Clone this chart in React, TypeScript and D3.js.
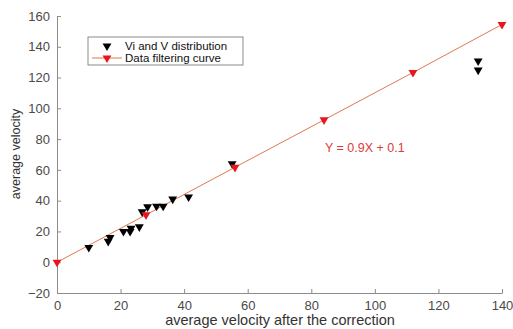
import React, { useEffect, useRef } from "react";
import { select, scaleLinear, axisLeft, axisBottom, line, symbol, symbolTriangle } from "d3";

// black scatter: Vi and V distribution
const scatterX = [10, 16.1, 16.7, 20.9, 23, 23.3, 25.9, 26.8, 28.5, 31.3, 33.4, 36.4, 41.4, 55.1, 132.5, 132.5];
const scatterY = [9.6, 13.6, 16, 20, 20, 22, 23, 32.7, 36, 36.4, 36.4, 41, 42.4, 64, 130.8, 124.8];

// red filtering curve
const curveX = [0, 28, 56, 84, 112, 140];
const curveY = [0, 30.8, 61.7, 92.5, 123.3, 154.5];

const xTicks = [0, 20, 40, 60, 80, 100, 120, 140];
const yTicks = [-20, 0, 20, 40, 60, 80, 100, 120, 140, 160];

const W = 513;
const H = 329;
const margin = { left: 57, right: 11, top: 16, bottom: 36 };

function App() {
  const svgRef = useRef<SVGSVGElement>(null);

  useEffect(() => {
    const svg = select(svgRef.current);
    svg.selectAll("*").remove();

    const x = scaleLinear().domain([0, 140]).range([margin.left, W - margin.right]);
    const y = scaleLinear().domain([-20, 160]).range([H - margin.bottom, margin.top]);
    const font = "'Liberation Sans', Arial, sans-serif";

    // axes (matlab style: ticks pointing in)
    const xAxis = svg
      .append("g")
      .attr("transform", `translate(0,${y(-20)})`)
      .call(axisBottom(x).tickValues(xTicks).tickSizeInner(-4).tickSizeOuter(0).tickPadding(8));
    const yAxis = svg
      .append("g")
      .attr("transform", `translate(${x(0)},0)`)
      .call(axisLeft(y).tickValues(yTicks).tickSizeInner(-4).tickSizeOuter(0).tickPadding(7));
    [xAxis, yAxis].forEach(g => {
      g.selectAll("path, line").attr("stroke", "#8c8c8c");
      g.selectAll("text").attr("fill", "#4a4a4a").attr("font-size", 13).attr("font-family", font);
    });

    // fit line
    svg
      .append("path")
      .datum(curveX.map((v, i) => [v, curveY[i]]))
      .attr("fill", "none")
      .attr("stroke", "#e07850")
      .attr("stroke-width", 1)
      .attr("d", line().x(d => x(d[0])).y(d => y(d[1])));

    const tri = symbol().type(symbolTriangle).size(34);

    svg
      .append("g")
      .selectAll("path")
      .data(scatterX.map((v, i) => [v, scatterY[i]]))
      .join("path")
      .attr("d", tri)
      .attr("fill", "#000")
      .attr("transform", d => `translate(${x(d[0])},${y(d[1])}) rotate(180)`);

    svg
      .append("g")
      .selectAll("path")
      .data(curveX.map((v, i) => [v, curveY[i]]))
      .join("path")
      .attr("d", tri)
      .attr("fill", "#e8141e")
      .attr("transform", d => `translate(${x(d[0])},${y(d[1])}) rotate(180)`);

    // legend
    const lg = svg.append("g").attr("transform", "translate(88,37)");
    lg.append("rect").attr("width", 155).attr("height", 28).attr("fill", "#fff").attr("stroke", "#6e6e6e").attr("stroke-width", 0.8);
    lg.append("path").attr("d", tri).attr("fill", "#000").attr("transform", "translate(19,9) rotate(180)");
    lg.append("line").attr("x1", 4).attr("x2", 34).attr("y1", 21).attr("y2", 21).attr("stroke", "#e07850");
    lg.append("path").attr("d", tri).attr("fill", "#e8141e").attr("transform", "translate(19,21) rotate(180)");
    lg.append("text").attr("x", 37).attr("y", 13).text("Vi and V distribution").attr("font-size", 11.5).attr("font-family", font).attr("fill", "#111");
    lg.append("text").attr("x", 37).attr("y", 25).text("Data filtering curve").attr("font-size", 11.5).attr("font-family", font).attr("fill", "#111");

    // equation
    svg
      .append("text")
      .attr("x", 325)
      .attr("y", 152)
      .text("Y = 0.9X + 0.1")
      .attr("font-size", 12.5)
      .attr("font-family", font)
      .attr("fill", "#e03a3a");

    // axis labels
    svg
      .append("text")
      .attr("x", 280)
      .attr("y", H - 4)
      .attr("text-anchor", "middle")
      .text("average velocity after the correction")
      .attr("font-size", 14.5)
      .attr("font-family", font)
      .attr("fill", "#333");
    svg
      .append("text")
      .attr("transform", `translate(20,154) rotate(-90)`)
      .attr("text-anchor", "middle")
      .text("average velocity")
      .attr("font-size", 12.5)
      .attr("font-family", font)
      .attr("fill", "#333");
  }, []);

  return (
    <svg ref={svgRef} width={W} height={H} style={{ position: "absolute", left: 0, top: 0, background: "#fff" }} />
  );
}

export default App;
